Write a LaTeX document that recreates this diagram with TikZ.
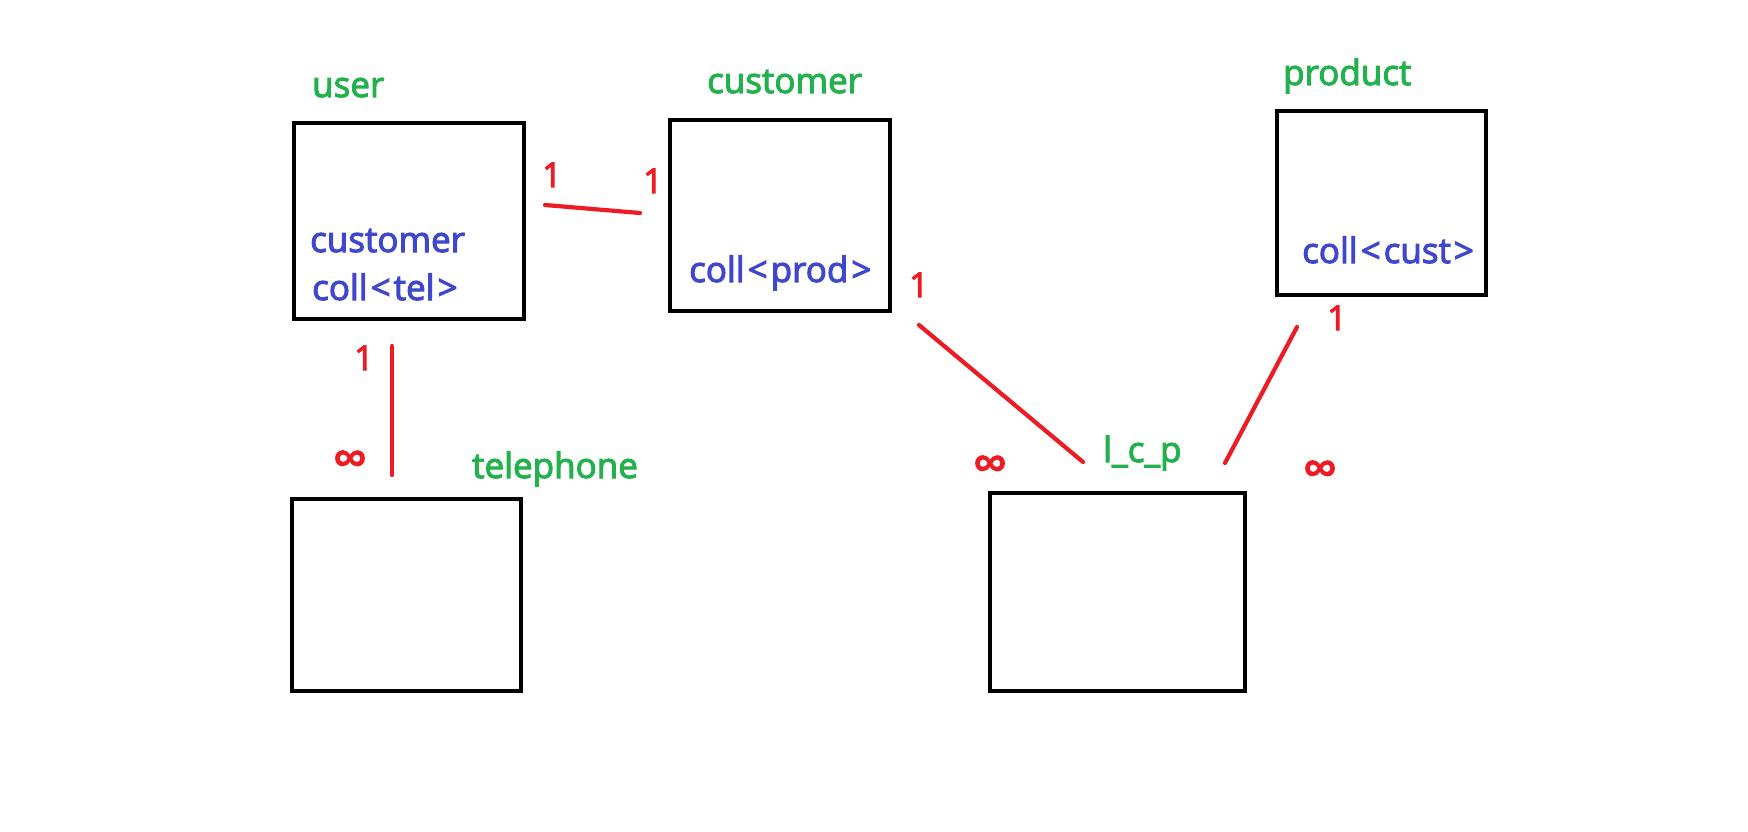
\documentclass[tikz,border=0pt]{standalone}
\usepackage{fontspec}
\setmainfont{Open Sans}[FakeBold=3]
\definecolor{grn}{RGB}{34,177,76}
\definecolor{blu}{RGB}{63,72,204}
\definecolor{rd}{RGB}{237,28,36}
\newcommand{\myLt}{\kern3pt<\kern3pt}
\newcommand{\myGt}{\kern3pt>}
\begin{document}
\begin{tikzpicture}[x=1pt,y=-1pt,
  ent/.style={draw=black,line width=4.2pt,rectangle,inner sep=0pt},
  gl/.style={text=grn,font=\fontsize{35}{40}\selectfont,anchor=base west,inner sep=0pt},
  bl/.style={text=blu,font=\fontsize{35}{40}\selectfont,anchor=base west,inner sep=0pt},
  card/.style={text=rd,font=\fontsize{34}{40}\selectfont,anchor=base west,inner sep=0pt},
  inf/.style={text=rd,font=\fontsize{48}{50}\selectfont,anchor=center,inner sep=0pt},
  rel/.style={draw=rd,line width=4.2pt,line cap=round}]
\useasboundingbox[fill=white] (0,0) rectangle (1748,832);
% entities
\node[ent,minimum width=230pt,minimum height=196pt] (user) at (409,221) {};
\node[ent,minimum width=220pt,minimum height=191pt] (cust) at (780,215.5) {};
\node[ent,minimum width=209pt,minimum height=184pt] (prod) at (1381.5,203) {};
\node[ent,minimum width=229pt,minimum height=192pt] (tel) at (406.5,595) {};
\node[ent,minimum width=255pt,minimum height=198pt] (lcp) at (1117.5,592) {};
% titles
\node[gl] (tuser) at (312,97) {user};
\node[gl] (tcust) at (707,93) {customer};
\node[gl] (tprod) at (1283,85) {product};
\node[gl] (ttel) at (472,478) {telephone};
\node[gl] (tlcp) at (1103,462) {l\_c\_p};
% attributes
\node[bl] (a1) at (310,252) {customer};
\node[bl] (a2) at (312,300) {coll\myLt tel\myGt};
\node[bl] (a3) at (689,282) {coll\myLt prod\myGt};
\node[bl] (a4) at (1302,263) {coll\myLt cust\myGt};
% connector end points
\coordinate (uc1) at (545,205);
\coordinate (uc2) at (640,213);
\coordinate (ut1) at (392,346);
\coordinate (ut2) at (392,475);
\coordinate (cl1) at (919,325);
\coordinate (cl2) at (1083,462);
\coordinate (pl1) at (1297,327);
\coordinate (pl2) at (1225,463);
\draw[rel] (uc1) -- (uc2);
\draw[rel] (ut1) -- (ut2);
\draw[rel] (cl1) -- (cl2);
\draw[rel] (pl1) -- (pl2);
% cardinalities
\node[card] (c1) at (542,187) {1};
\node[card] (c2) at (643,193) {1};
\node[card] (c3) at (909,297) {1};
\node[card] (c4) at (1327,330) {1};
\node[card] (c5) at (354,370) {1};
\node[inf] (i1) at (350,463) {∞};
\node[inf] (i2) at (990,468) {∞};
\node[inf] (i3) at (1320,473) {∞};
\end{tikzpicture}
\end{document}
